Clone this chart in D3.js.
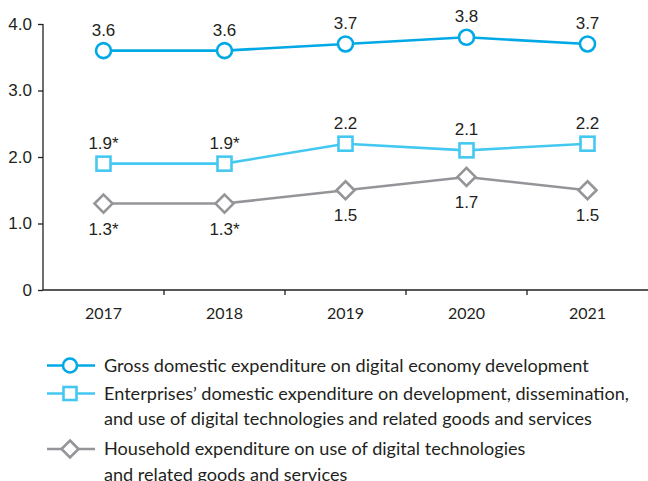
<!DOCTYPE html>
<html>
<head>
<meta charset="utf-8">
<script src="https://cdn.jsdelivr.net/npm/d3@7"></script>
<style>
  html, body { margin: 0; padding: 0; background: #fff; }
  svg { display: block; }
  .num { font-family: "Liberation Sans Narrow", "Arial Narrow", sans-serif; font-size: 17px; fill: #231f20; }
  .leg { font-family: Lato, sans-serif; font-size: 18.1px; fill: #231f20; }
  .xl { font-family: Lato, sans-serif; font-size: 16px; fill: #231f20; }
</style>
</head>
<body>
<svg id="chart" width="648" height="481"></svg>
<script>
// Years on the horizontal axis
const years = ["2017", "2018", "2019", "2020", "2021"];

// Expenditure, % of GDP
const grossValues = [3.6, 3.6, 3.7, 3.8, 3.7];
const enterpriseValues = [1.9, 1.9, 2.2, 2.1, 2.2];
const householdValues = [1.3, 1.3, 1.5, 1.7, 1.5];

// Value labels (asterisk marks estimated figures)
const grossLabels = ["3.6", "3.6", "3.7", "3.8", "3.7"];
const enterpriseLabels = ["1.9*", "1.9*", "2.2", "2.1", "2.2"];
const householdLabels = ["1.3*", "1.3*", "1.5", "1.7", "1.5"];

const yTicks = [0, 1, 2, 3, 4];
const yTickLabels = ["0", "1.0", "2.0", "3.0", "4.0"];

const legendLabels = [
  ["Gross domestic expenditure on digital economy development"],
  ["Enterprises\u2019 domestic expenditure on development, dissemination,",
   "and use of digital technologies and related goods and services"],
  ["Household expenditure on use of digital technologies",
   "and related goods and services"]
];

const series = [
  { values: grossValues, labels: grossLabels, color: "#00a9e6", shape: "circle", labelPos: "above" },
  { values: enterpriseValues, labels: enterpriseLabels, color: "#44c8f1", shape: "square", labelPos: "above" },
  { values: householdValues, labels: householdLabels, color: "#939598", shape: "diamond", labelPos: "below" }
];

const svg = d3.select("#chart");
const plotLeft = 43, plotRight = 648, plotTop = 24, plotBottom = 290;

const x = d3.scaleBand().domain(years).range([plotLeft, plotRight]);
const y = d3.scaleLinear().domain([0, 4]).range([plotBottom, plotTop]);
const cx = d => x(d) + x.bandwidth() / 2;

// Y axis
const yAxis = svg.append("g").attr("transform", `translate(${plotLeft},0)`)
  .call(d3.axisLeft(y).tickValues(yTicks).tickFormat((d, i) => yTickLabels[i]).tickSize(5).tickPadding(6));
yAxis.select(".domain").attr("stroke", "#231f20").attr("stroke-width", 1.3).attr("d", `M0,${plotTop}V${plotBottom}`);
yAxis.selectAll(".tick line").attr("stroke", "#231f20").attr("stroke-width", 1.3);
yAxis.selectAll(".tick text").attr("class", "num").attr("fill", null).attr("font-size", null).attr("font-family", null);

// X axis with ticks between the year bands
const xAxis = svg.append("g").attr("transform", `translate(0,${plotBottom})`);
xAxis.append("line").attr("x1", plotLeft).attr("x2", plotRight).attr("stroke", "#231f20").attr("stroke-width", 1.3);
xAxis.selectAll(".sep").data(years.slice(1)).join("line")
  .attr("x1", d => x(d)).attr("x2", d => x(d)).attr("y1", 0).attr("y2", 5)
  .attr("stroke", "#231f20").attr("stroke-width", 1.3);
xAxis.selectAll(".xl").data(years).join("text").attr("class", "xl")
  .attr("x", d => cx(d)).attr("y", 29).attr("text-anchor", "middle").text(d => d);

function drawMarker(g, shape, color, r) {
  if (shape === "circle") {
    g.append("circle").attr("r", r).attr("fill", "#fff").attr("stroke", color).attr("stroke-width", 2.6);
  } else if (shape === "square") {
    g.append("rect").attr("x", -r + 0.5).attr("y", -r + 0.5).attr("width", 2 * r - 1).attr("height", 2 * r - 1)
      .attr("fill", "#fff").attr("stroke", color).attr("stroke-width", 2.6);
  } else {
    const s = r + 1.5;
    g.append("path").attr("d", `M0,${-s}L${s},0L0,${s}L${-s},0Z`)
      .attr("fill", "#fff").attr("stroke", color).attr("stroke-width", 2.6);
  }
}

const line = d3.line().x((d, i) => cx(years[i])).y(d => y(d));

series.forEach(s => {
  const g = svg.append("g");
  g.append("path").datum(s.values).attr("d", line).attr("fill", "none")
    .attr("stroke", s.color).attr("stroke-width", 2.6);
  s.values.forEach((v, i) => {
    const m = g.append("g").attr("transform", `translate(${cx(years[i])},${y(v)})`);
    drawMarker(m, s.shape, s.color, 7.5);
  });
  g.selectAll("text").data(s.values).join("text").attr("class", "num")
    .attr("x", (d, i) => cx(years[i]))
    .attr("y", d => s.labelPos === "above" ? y(d) - 15 : y(d) + 31)
    .attr("text-anchor", "middle")
    .text((d, i) => s.labels[i]);
});

// Legend
const legendRows = [371.5, 399.5, 455];
series.forEach((s, i) => {
  const g = svg.append("g").attr("transform", `translate(0,${legendRows[i] - 6})`);
  g.append("line").attr("x1", 47).attr("x2", 95).attr("stroke", s.color).attr("stroke-width", 2.6);
  const m = g.append("g").attr("transform", "translate(70,0)");
  drawMarker(m, s.shape, s.color, 7);
  const t = g.append("text").attr("class", "leg").attr("x", 104).attr("y", 6);
  legendLabels[i].forEach((ln, j) => {
    t.append("tspan").attr("x", 104).attr("dy", j === 0 ? 0 : 25.5).text(ln);
  });
});
</script>
</body>
</html>
